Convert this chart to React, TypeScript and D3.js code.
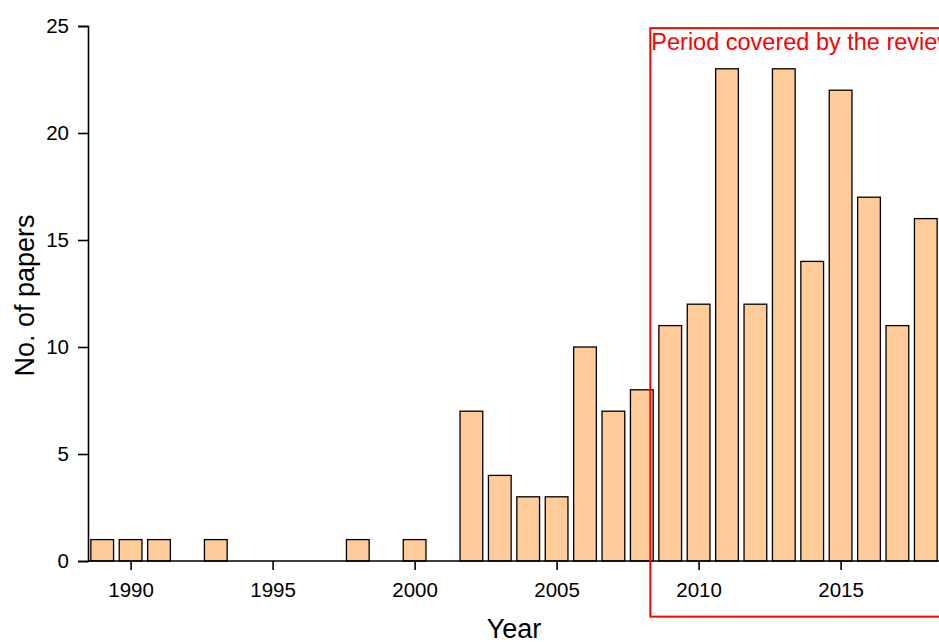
import React, {useEffect, useRef} from 'react';
import * as d3 from 'd3';

const years = [1989, 1990, 1991, 1993, 1998, 2000, 2002, 2003, 2004, 2005, 2006, 2007, 2008,
    2009, 2010, 2011, 2012, 2013, 2014, 2015, 2016, 2017, 2018];
const papers = [1, 1, 1, 1, 1, 1, 7, 4, 3, 3, 10, 7, 8,
    11, 12, 23, 12, 23, 14, 22, 17, 11, 16];
const xTicks = [1990, 1995, 2000, 2005, 2010, 2015];
const yTicks = [0, 5, 10, 15, 20, 25];
const periodLabel = 'Period covered by the review';

const FONT = "Arial, 'Liberation Sans', sans-serif";

export default function App() {
    const svgRef = useRef<SVGSVGElement>(null);

    const width = 939, height = 642;
    const margin = {top: 26, left: 88, bottom: 81};
    const plotRight = 940;

    useEffect(() => {
        const svg = d3.select(svgRef.current);
        svg.selectAll('*').remove();

        const x = d3.scaleLinear().domain([1988.5, 2018.5]).range([margin.left, plotRight]);
        const y = d3.scaleLinear().domain([0, 25]).range([height - margin.bottom, margin.top]);
        const bw = (x(1) - x(0)) * 0.8;

        // bars
        svg.append('g')
            .selectAll('rect')
            .data(years.map((yr, i) => ({yr, n: papers[i]})))
            .join('rect')
            .attr('x', d => x(d.yr) - bw / 2)
            .attr('y', d => y(d.n))
            .attr('width', bw)
            .attr('height', d => y(0) - y(d.n))
            .attr('fill', '#ffcc99')
            .attr('stroke', '#000')
            .attr('stroke-width', 1.3);

        // x axis
        const gx = svg.append('g').attr('transform', `translate(0,${y(0)})`);
        gx.call(d3.axisBottom(x).tickValues(d3.range(1990, 2019, 2.5)).tickSize(5).tickFormat(() => ''));
        gx.call(d3.axisBottom(x).tickValues(xTicks).tickSize(9).tickPadding(12).tickFormat(d3.format('d')));
        gx.select('.domain').attr('d', `M${margin.left},0H${plotRight}`);

        // y axis
        const gy = svg.append('g').attr('transform', `translate(${margin.left},0)`);
        gy.call(d3.axisLeft(y).tickValues(d3.range(0, 25.1, 2.5)).tickSize(5).tickFormat(() => ''));
        gy.call(d3.axisLeft(y).tickValues(yTicks).tickSize(10).tickPadding(9).tickFormat(d3.format('d')));

        svg.selectAll('.domain').attr('stroke', '#000').attr('stroke-width', 1.6);
        svg.selectAll('.tick line').attr('stroke', '#000').attr('stroke-width', 1.6);
        svg.selectAll('.tick text')
            .attr('font-family', FONT)
            .attr('font-size', 20.5)
            .attr('fill', '#000');

        // axis titles
        svg.append('text')
            .attr('x', (margin.left + plotRight) / 2)
            .attr('y', 638)
            .attr('text-anchor', 'middle')
            .attr('font-family', FONT)
            .attr('font-size', 27)
            .text('Year');

        svg.append('text')
            .attr('transform', `translate(34,${(y(0) + y(25)) / 2 + 2}) rotate(-90)`)
            .attr('text-anchor', 'middle')
            .attr('font-family', FONT)
            .attr('font-size', 27)
            .text('No. of papers');

        // period annotation
        const px0 = x(2008.3), py0 = y(24.9), py1 = y(-2.6);
        svg.append('rect')
            .attr('x', px0)
            .attr('y', py0)
            .attr('width', plotRight + 20 - px0)
            .attr('height', py1 - py0)
            .attr('fill', 'none')
            .attr('stroke', '#ff0000')
            .attr('stroke-width', 2);

        svg.append('text')
            .attr('x', px0 + 1)
            .attr('y', py0 + 22)
            .attr('font-family', FONT)
            .attr('font-size', 23.5)
            .attr('fill', '#ff0000')
            .text(periodLabel);
    }, []);

    return (
        <svg ref={svgRef} width={width} height={height}
             style={{position: 'absolute', left: 0, top: 0, background: '#fff'}}/>
    );
}
